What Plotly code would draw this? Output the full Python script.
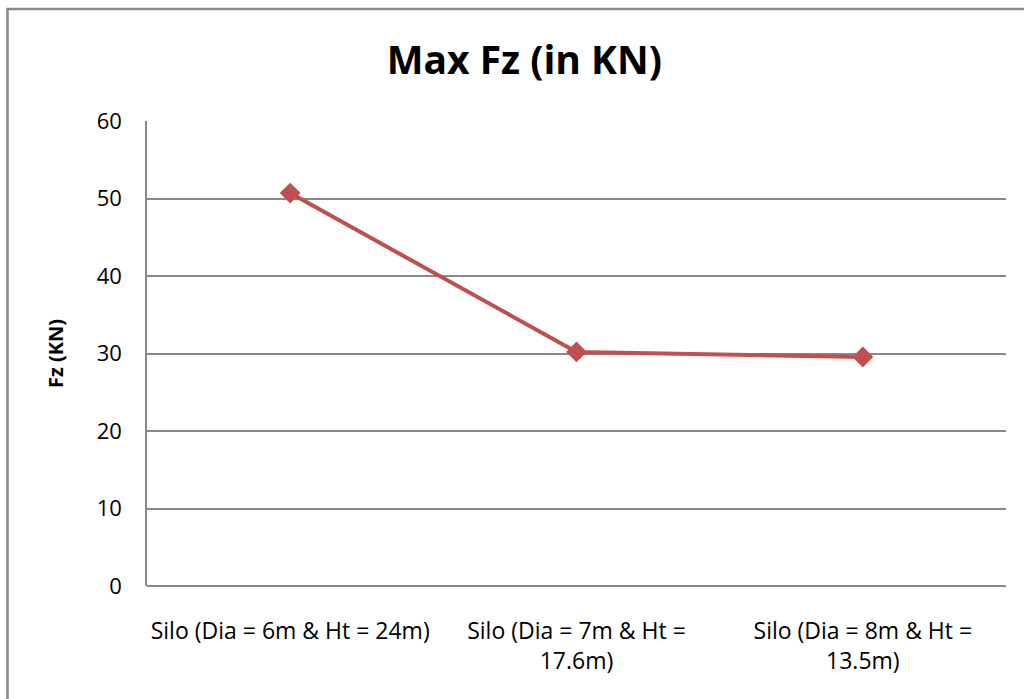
import plotly.graph_objects as go

categories = ["Silo (Dia = 6m & Ht = 24m)", "Silo (Dia = 7m & Ht =<br>17.6m)", "Silo (Dia = 8m & Ht =<br>13.5m)"]
max_fz = [50.7, 30.2, 29.55]
y_ticks = [0, 10, 20, 30, 40, 50, 60]

FONT = "Open Sans"
GRID = "#898989"
fig = go.Figure()
fig.add_trace(go.Scatter(
    x=categories, y=max_fz, mode="lines+markers",
    line=dict(color="#C0504D", width=4),
    marker=dict(symbol="diamond", size=16, color="#C0504D"),
    showlegend=False,
))
fig.update_layout(
    width=1024, height=699,
    margin=dict(l=147, r=18, t=121, b=113),
    paper_bgcolor="white", plot_bgcolor="white",
    font=dict(family=FONT, color="black", size=22),
    title=dict(text="<b>Max Fz (in KN)</b>", x=0.512, xanchor="center", y=0.913, yanchor="middle",
               font=dict(family=FONT, size=39, color="black")),
    xaxis=dict(type="category", range=[-0.5, 2.5], showgrid=False, showline=False, ticks="",
               automargin=False, tickfont=dict(family=FONT, size=23), ticklabelstandoff=29),
    yaxis=dict(range=[0, 60], tickvals=y_ticks, showgrid=True, gridcolor=GRID, gridwidth=1.5,
               showline=True, linecolor=GRID, linewidth=1.5, ticks="", zeroline=True,
               zerolinecolor=GRID, zerolinewidth=1.5, automargin=False,
               tickfont=dict(family=FONT, size=22), ticklabelstandoff=19,
               title=dict(text="<b>Fz (KN)</b>", font=dict(family=FONT, size=20), standoff=28)),
    shapes=[dict(type="rect", xref="paper", yref="paper",
                 x0=(7.5 - 147) / 859, x1=1.1, y0=-0.5, y1=(586 - 9) / 465,
                 line=dict(color=GRID, width=2.5), fillcolor="rgba(0,0,0,0)", layer="below")],
)
fig.write_html("out.html")
